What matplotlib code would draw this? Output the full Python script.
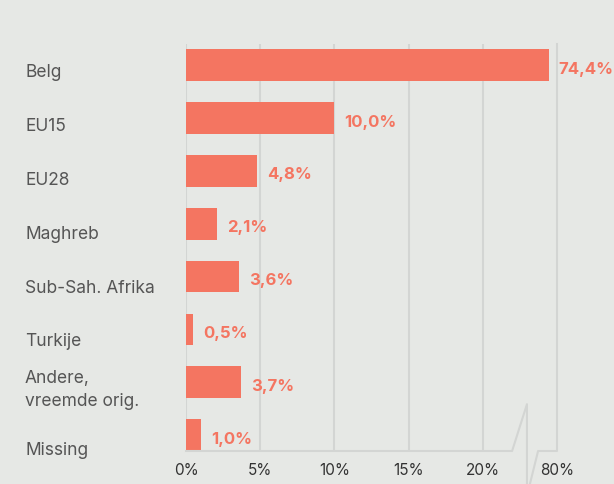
import numpy as np
import matplotlib.pyplot as plt

categories = ["Belg", "EU15", "EU28", "Maghreb", "Sub-Sah. Afrika", "Turkije",
              "Andere,\nvreemde orig.", "Missing"]
values = [74.4, 10.0, 4.8, 2.1, 3.6, 0.5, 3.7, 1.0]
labels = ["74,4%", "10,0%", "4,8%", "2,1%", "3,6%", "0,5%", "3,7%", "1,0%"]
xticks = [0, 5, 10, 15, 20, 80]
xticklabels = ["0%", "5%", "10%", "15%", "20%", "80%"]

bg = "#e6e8e5"
bar_col = "#f47561"
grid_col = "#d3d5d3"

# broken axis: 0-20 linear, 20-70 squeezed, 70-80 at a tenth
def fwd(x):
    x = np.asarray(x, dtype=float)
    return np.where(x <= 20, x,
                    np.where(x <= 70, 20 + (x - 20) * 0.08, 24 + (x - 70) * 0.1))

def inv(y):
    y = np.asarray(y, dtype=float)
    return np.where(y <= 20, y,
                    np.where(y <= 24, 20 + (y - 20) / 0.08, 70 + (y - 24) / 0.1))

plt.rcParams['font.family'] = ['Inter', 'Liberation Sans', 'DejaVu Sans']

fig = plt.figure(figsize=(6.14, 4.85), dpi=100, facecolor=bg)
ax = fig.add_axes([186/614, 1-452/485, 371/614, 407/485])
ax.set_facecolor(bg)
ax.set_xscale('function', functions=(fwd, inv))
ax.set_xlim(0, 80)
ax.set_ylim(7.3, -0.4)

for gx in [0, 5, 10, 15, 20]:
    ax.axvline(gx, color=grid_col, lw=1.5, zorder=0)

y = np.arange(len(categories))
ax.barh(y, values, height=0.6, color=bar_col, zorder=2)
for yi, v, lab in zip(y, values, labels):
    ax.annotate(lab, (v, yi), xytext=(10, -1.5), textcoords='offset pixels',
                va='center_baseline', ha='left', color=bar_col, fontsize=12,
                fontweight='bold', annotation_clip=False)

for s in ax.spines.values():
    s.set_visible(False)
ax.set_yticks([])
ax.set_xticks(xticks)
ax.set_xticklabels(xticklabels, fontsize=11, color="#333333")
ax.tick_params(axis='x', length=0, pad=8)

# category names: baseline of last line a bit below bar centre
base_off = [11, 12, 13, 14, 15, 16, 23, 18.5]
for yi, c, off in zip(y, categories, base_off):
    lines = c.split("\n")
    for k, line in enumerate(reversed(lines)):
        ax.annotate(line, (-161/371, yi), xycoords=ax.get_yaxis_transform(),
                    xytext=(0, -off + 23.5 * k), textcoords='offset pixels',
                    ha='left', va='baseline', fontsize=12.5, color="#555555",
                    annotation_clip=False)

# break marker drawn in axes fraction
kw = dict(color=grid_col, lw=1.5, transform=ax.transAxes, clip_on=False)
ax.plot([0, 0.879, 0.919, 0.919], [0, 0, 0.115, -0.081], **kw)
ax.plot([0.927, 0.949, 1.0, 1.0], [-0.081, 0, 0, 1], **kw)

fig.savefig("out.png", dpi=100, facecolor=bg)
